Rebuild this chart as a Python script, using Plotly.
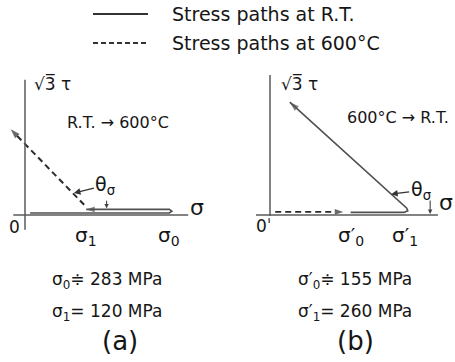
import plotly.graph_objects as go

# Stress levels of the two temperature-change tests (MPa)
stress_names_a = ["σ<sub>0</sub>", "σ<sub>1</sub>"]
stress_a = [283, 120]
stress_names_b = ["σ′<sub>0</sub>", "σ′<sub>1</sub>"]
stress_b = [155, 260]

# End of the combined (σ, √3τ) branch of each path, MPa
branch_end_a = [-28, 168]
branch_end_b = [38, 217]

legend_texts = ["Stress paths at R.T.", "Stress paths at 600°C"]
titles = ["R.T. → 600°C", "600°C → R.T."]

W, H = 455, 362
FONT = "DejaVu Sans"
INK = "#161616"
LINE = "#505050"

# Each panel gets its own pair of overlaid axes: origin (pixel) and pixels per MPa
ORIGIN_A, SCALE_A = (25, 215), 0.51
ORIGIN_B, SCALE_B = (270, 215), 0.52


def ranges(origin, scale):
    ox, oy = origin
    return [-ox / scale, (W - ox) / scale], [-(H - oy) / scale, oy / scale]


def px(x):
    return x / W


def py(y):
    return 1 - y / H


fig = go.Figure()


def path(x, y, xa, ya, dash, color, width, head=9):
    sizes = [0] * (len(x) - 1) + [head]
    fig.add_trace(go.Scatter(
        x=x, y=y, xaxis=xa, yaxis=ya, mode="lines+markers",
        line=dict(color=color, width=width, dash=dash),
        marker=dict(symbol="arrow", size=sizes, angleref="previous",
                    color=color, line=dict(width=0)),
        hoverinfo="skip", showlegend=False))


s0a, s1a = stress_a
s0b, s1b = stress_b

# (a) R.T. -> 600°C : tension to σ0 and unloading to σ1 at R.T., then combined path at 600°C
path([10, s0a, s0a + 5, s0a, s1a], [4, 4, 7.5, 11, 11], "x", "y", "solid", LINE, 1.6)
path([s1a - 4, branch_end_a[0]], [20, branch_end_a[1]], "x", "y", "6px,4px", "#2a2a2a", 2.0, 10)

# (b) 600°C -> R.T. : tension to σ0' at 600°C, then to σ1' and combined path at R.T.
path([10, s0b - 14], [6, 6], "x2", "y2", "6px,4px", "#2a2a2a", 1.8, 9)
path([s0b, s1b - 2, s1b + 5, s1b + 3, branch_end_b[0]],
     [5, 5, 8, 13, branch_end_b[1]], "x2", "y2", "solid", LINE, 1.6, 10)

xa, ya = ranges(ORIGIN_A, SCALE_A)
xb, yb = ranges(ORIGIN_B, SCALE_B)

axis_line = dict(color="#5a5a5a", width=1.5)
shapes = [
    # panel (a) axes
    dict(type="line", xref="x", yref="y", x0=0, x1=0, y0=-29, y1=265, line=axis_line),
    dict(type="line", xref="x", yref="y", x0=-23, x1=320, y0=0, y1=0, line=axis_line),
    # panel (b) axes
    dict(type="line", xref="x2", yref="y2", x0=0, x1=0, y0=-2, y1=269, line=axis_line),
    dict(type="line", xref="x2", yref="y2", x0=-27, x1=323, y0=0, y1=0, line=axis_line),
    # legend keys
    dict(type="line", xref="paper", yref="paper", x0=px(93), x1=px(148), y0=py(14), y1=py(14),
         line=dict(color="#333", width=2)),
    dict(type="line", xref="paper", yref="paper", x0=px(93), x1=px(148), y0=py(43), y1=py(43),
         line=dict(color="#333", width=2, dash="5px,3px")),
]

ann = []


def text(t, x, y, size, xanchor="center", xref="paper", yref="paper"):
    ann.append(dict(text=t, x=x, y=y, xref=xref, yref=yref, xanchor=xanchor,
                    yanchor="middle", showarrow=False,
                    font=dict(family=FONT, size=size, color=INK)))


# legend
text(legend_texts[0], px(170), py(14), 19, "left")
text(legend_texts[1], px(170), py(43), 19, "left")

# panel (a)
text("√3\u0305 τ", px(32), py(83), 17, "left")
text(titles[0], px(118), py(122), 16)
text("σ", px(197), py(207), 22)
text("0", px(14), py(227), 17)
text(stress_names_a[1], s1a, py(236), 20, xref="x")
text(stress_names_a[0], s0a, py(236), 20, xref="x")
text(f"{stress_names_a[0]}≑ {s0a} MPa", px(50), py(280), 17, "left")
text(f"{stress_names_a[1]}= {s1a} MPa", px(50), py(312), 17, "left")
text("(a)", px(120), py(341), 26)

# panel (b)
text("√3\u0305 τ", px(279), py(83), 17, "left")
text(titles[1], px(345), py(118), 16, "left")
text("σ", px(446), py(203), 22)
text("0ˈ", px(264), py(226), 17)
text(stress_names_b[0], s0b, py(236), 20, xref="x2")
text(stress_names_b[1], s1b, py(236), 20, xref="x2")
text(f"{stress_names_b[0]}≑ {s0b} MPa", px(296), py(280), 17, "left")
text(f"{stress_names_b[1]}= {s1b} MPa", px(296), py(312), 17, "left")
text("(b)", px(355), py(341), 26)

# angle marks θσ between the axial branch and the combined branch
arrow_style = dict(showarrow=True, arrowhead=2, arrowsize=1, arrowwidth=1.3,
                   arrowcolor="#333", font=dict(family=FONT, size=19, color=INK))
ann.append(dict(text="θ<sub>σ</sub>", x=s1a - 24, y=43, xref="x", yref="y",
                ax=32, ay=-8, **arrow_style))
ann.append(dict(text="θ<sub>σ</sub>", x=s1b - 27, y=40, xref="x2", yref="y2",
                ax=30, ay=-4, **arrow_style))
# small ticks pointing at the σ axis
ann.append(dict(text="", x=s1a + 40, y=13, xref="x", yref="y", ax=0, ay=-9,
                showarrow=True, arrowhead=2, arrowsize=0.8, arrowwidth=1.1, arrowcolor="#444"))
ann.append(dict(text="", x=308, y=2, xref="x2", yref="y2", ax=0, ay=-15,
                showarrow=True, arrowhead=2, arrowsize=0.8, arrowwidth=1.1, arrowcolor="#444"))

fig.update_layout(
    width=W, height=H, margin=dict(l=0, r=0, t=0, b=0),
    paper_bgcolor="white", plot_bgcolor="white",
    xaxis=dict(domain=[0, 1], range=xa, visible=False, fixedrange=True),
    yaxis=dict(domain=[0, 1], range=ya, visible=False, fixedrange=True),
    xaxis2=dict(domain=[0, 1], range=xb, visible=False, overlaying="x", fixedrange=True),
    yaxis2=dict(domain=[0, 1], range=yb, visible=False, overlaying="y", fixedrange=True),
    shapes=shapes, annotations=ann,
)

fig.write_html("out.html", config={"displayModeBar": False})
